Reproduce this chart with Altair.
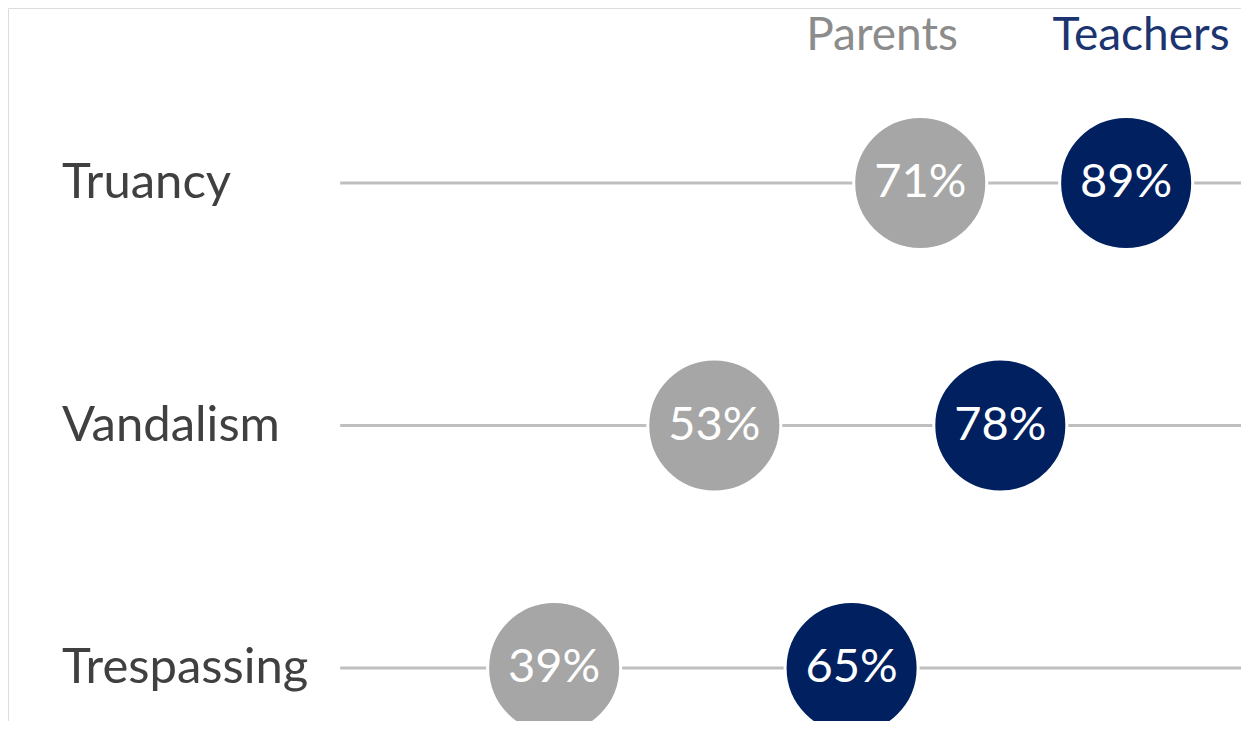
import altair as alt
import pandas as pd

categories = ["Truancy", "Vandalism", "Trespassing"]
parents = [71, 53, 39]
teachers = [89, 78, 65]
series = ["Parents", "Teachers"]
colors = ["#a6a6a6", "#002060"]
header_colors = ["#8c8c8c", "#1c3470"]

rows = []
for i, c in enumerate(categories):
    rows.append({"cat": c, "row": i, "group": "Parents", "v": parents[i]})
    rows.append({"cat": c, "row": i, "group": "Teachers", "v": teachers[i]})
df = pd.DataFrame(rows)
df["label"] = df["v"].astype(str) + "%"

lines = pd.DataFrame({"cat": categories, "row": list(range(len(categories))),
                      "start": [20.3] * 3, "end": [100] * 3})

FONT = "Lato"
xs = alt.Scale(domain=[0, 100], range=[100, 1244])
ys = alt.Scale(domain=[0, 2], range=[175, 660])

rule = alt.Chart(lines).mark_rule(color="#bfbfbf", strokeWidth=3).encode(
    x=alt.X("start:Q", scale=xs, axis=None),
    x2="end:Q",
    y=alt.Y("row:Q", scale=ys, axis=None),
)

cats = alt.Chart(lines).mark_text(align="left", baseline="middle", font=FONT,
                                  fontSize=49, color="#404040").encode(
    x=alt.value(54),
    y=alt.Y("row:Q", scale=ys, axis=None),
    text="cat:N",
)

dots = alt.Chart(df).mark_circle(size=17700, opacity=1, stroke="white", strokeWidth=3).encode(
    x=alt.X("v:Q", scale=xs, axis=None),
    y=alt.Y("row:Q", scale=ys, axis=None),
    color=alt.Color("group:N", scale=alt.Scale(domain=series, range=colors), legend=None),
)

labels = alt.Chart(df).mark_text(font=FONT, fontSize=47, color="white",
                                 baseline="middle", align="center").encode(
    x=alt.X("v:Q", scale=xs, axis=None),
    y=alt.Y("row:Q", scale=ys, axis=None),
    text="label:N",
)

hdr_p = alt.Chart(pd.DataFrame({"name": [series[0]]})).mark_text(
    font=FONT, fontSize=46, baseline="middle", align="center", color=header_colors[0]
).encode(x=alt.value(874), y=alt.value(28), text="name:N")

hdr_t = alt.Chart(pd.DataFrame({"name": [series[1]]})).mark_text(
    font=FONT, fontSize=46, baseline="middle", align="center", color=header_colors[1]
).encode(x=alt.value(1133), y=alt.value(28), text="name:N")

chart = alt.layer(rule, cats, dots, labels, hdr_p, hdr_t).properties(
    width=1233, height=713, padding=0, autosize=alt.AutoSizeParams(type="none")
).configure_view(stroke="transparent", strokeWidth=0).configure(background="white")

chart.save("out.html", embed_options={"renderer": "svg", "actions": False})
